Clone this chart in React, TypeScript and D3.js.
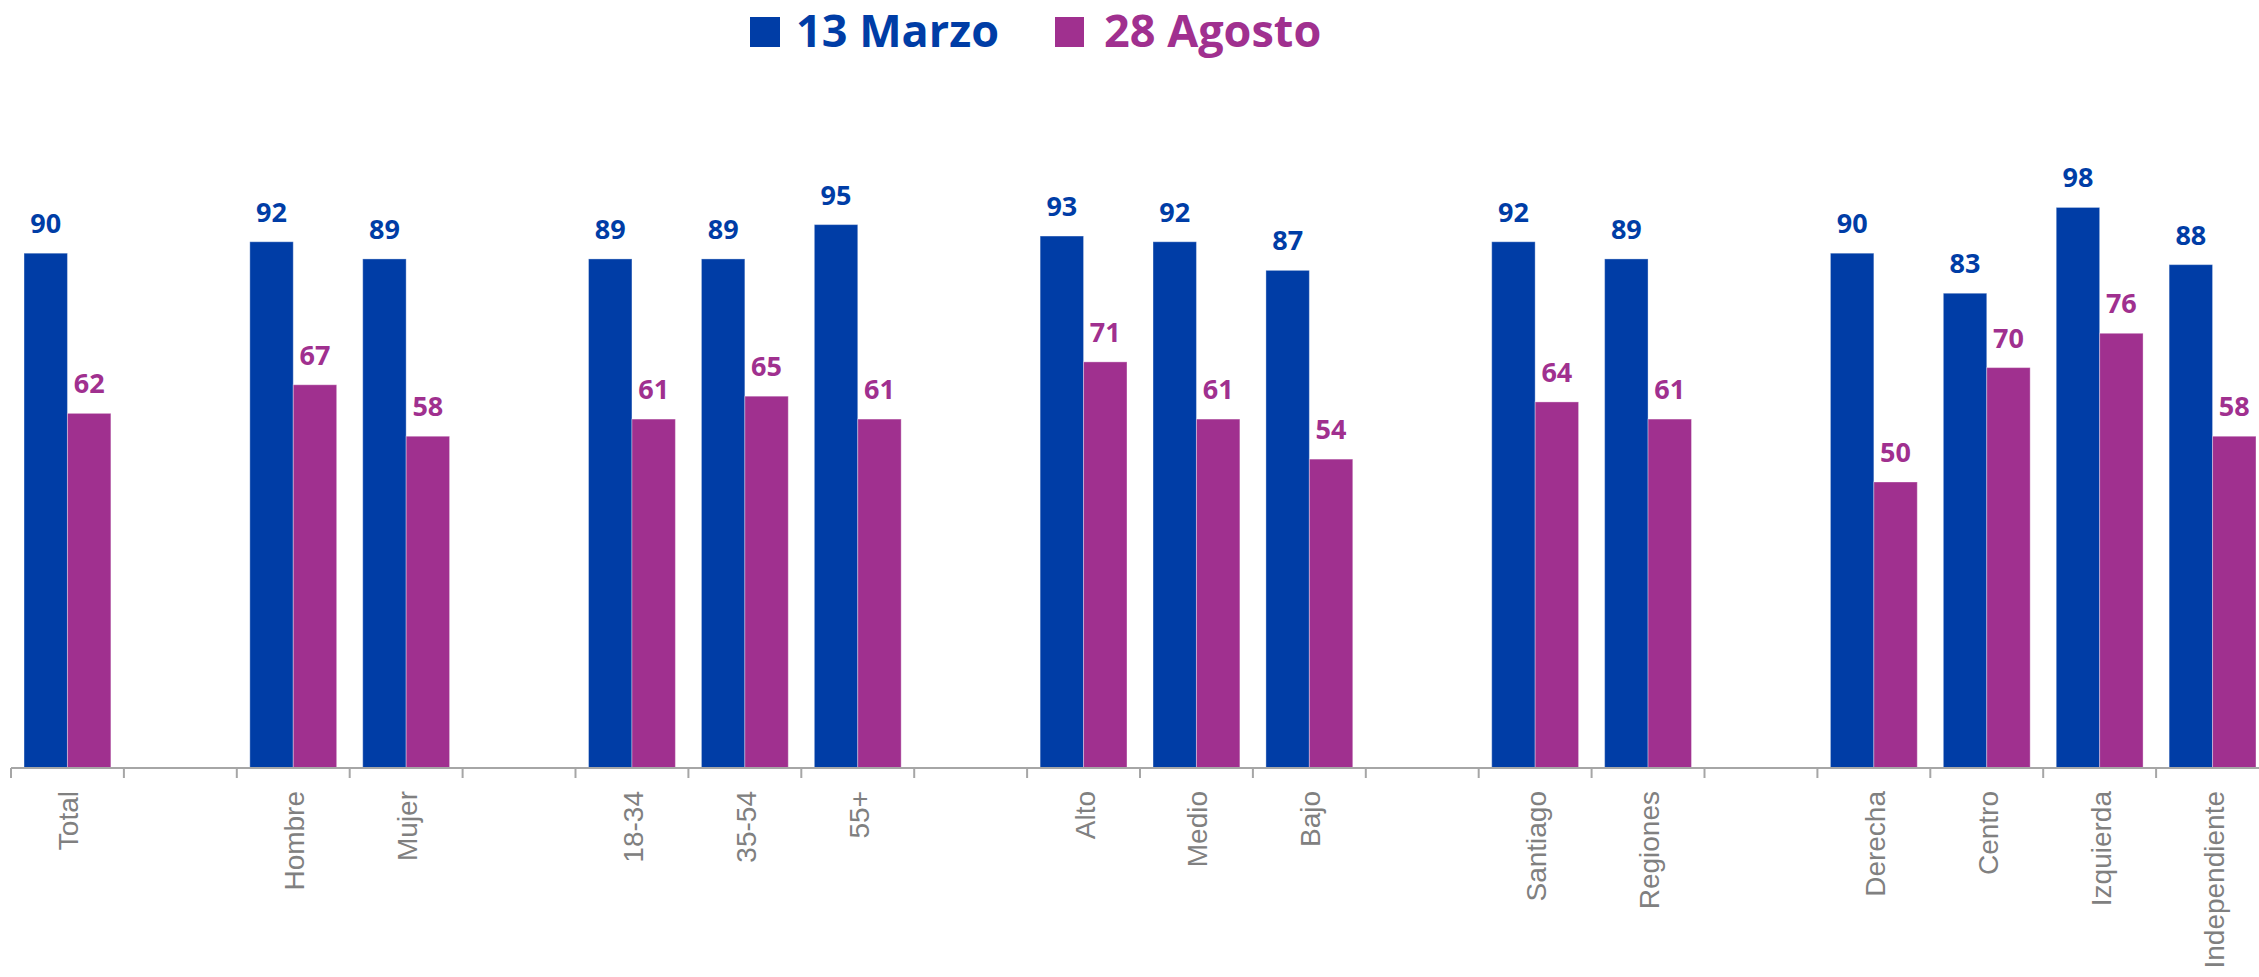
import React from "react";
import * as d3 from "d3";

const categories: string[] = [
  "Total", "", "Hombre", "Mujer", "", "18-34", "35-54", "55+", "",
  "Alto", "Medio", "Bajo", "", "Santiago", "Regiones", "",
  "Derecha", "Centro", "Izquierda", "Independiente",
];
const marzo: (number | null)[] = [
  90, null, 92, 89, null, 89, 89, 95, null, 93, 92, 87, null, 92, 89, null, 90, 83, 98, 88,
];
const agosto: (number | null)[] = [
  62, null, 67, 58, null, 61, 65, 61, null, 71, 61, 54, null, 64, 61, null, 50, 70, 76, 58,
];
const seriesNames = ["13 Marzo", "28 Agosto"];
const colors = ["#003DA6", "#A0308F"];

const W = 2259;
const H = 977;
const baseY = 768;
const topY = 196;

export default function App() {
  const slots = categories.map((_, i) => String(i));
  const x0 = d3.scaleBand<string>().domain(slots).range([11, 2269]).padding(0);
  const x1 = d3
    .scaleBand<string>()
    .domain(seriesNames)
    .range([0, x0.bandwidth()])
    .paddingInner(0)
    .paddingOuter(0.3);
  const y = d3.scaleLinear().domain([0, 100]).range([baseY, topY]);
  const series = [marzo, agosto];

  return (
    <svg
      width={W}
      height={H}
      style={{ position: "absolute", left: 0, top: 0, background: "#fff" }}
    >
      {/* legend */}
      <g fontFamily="'Open Sans', sans-serif" fontWeight="bold" fontSize={45}>
        <rect x={750} y={17} width={30} height={30} fill={colors[0]} />
        <text x={796} y={47} fill={colors[0]}>{seriesNames[0]}</text>
        <rect x={1055} y={17} width={29} height={30} fill={colors[1]} />
        <text x={1104} y={47} fill={colors[1]}>{seriesNames[1]}</text>
      </g>

      {/* bars */}
      {categories.map((c, i) =>
        series.map((s, k) => {
          const v = s[i];
          if (v == null) return null;
          const bx = (x0(String(i)) as number) + (x1(seriesNames[k]) as number);
          const bw = x1.bandwidth();
          return (
            <g key={`${i}-${k}`}>
              <rect
                x={bx}
                y={y(v)}
                width={bw}
                height={baseY - y(v)}
                fill={colors[k]}
                stroke="#ffffff"
                strokeOpacity={0.35}
                strokeWidth={1}
              />
              <text
                x={bx + bw / 2}
                y={y(v) - 20}
                textAnchor="middle"
                fontFamily="'Open Sans', sans-serif"
                fontWeight="bold"
                fontSize={27}
                fill={colors[k]}
              >
                {v}
              </text>
            </g>
          );
        })
      )}

      {/* axis */}
      <line x1={11} x2={W} y1={baseY} y2={baseY} stroke="#A6A6A6" strokeWidth={2} />
      {d3.range(categories.length + 1).map((i) => {
        const tx = i < categories.length ? (x0(String(i)) as number) : 2269;
        return (
          <line key={i} x1={tx} x2={tx} y1={baseY} y2={baseY + 10} stroke="#A6A6A6" strokeWidth={2} />
        );
      })}
      {categories.map((c, i) => {
        if (!c) return null;
        const cx = (x0(String(i)) as number) + x0.bandwidth() / 2;
        return (
          <text
            key={i}
            transform={`translate(${cx + 11},791) rotate(-90)`}
            textAnchor="end"
            fontFamily="'Liberation Sans', Arial, sans-serif"
            fontSize={28}
            fill="#808080"
          >
            {c}
          </text>
        );
      })}
    </svg>
  );
}
